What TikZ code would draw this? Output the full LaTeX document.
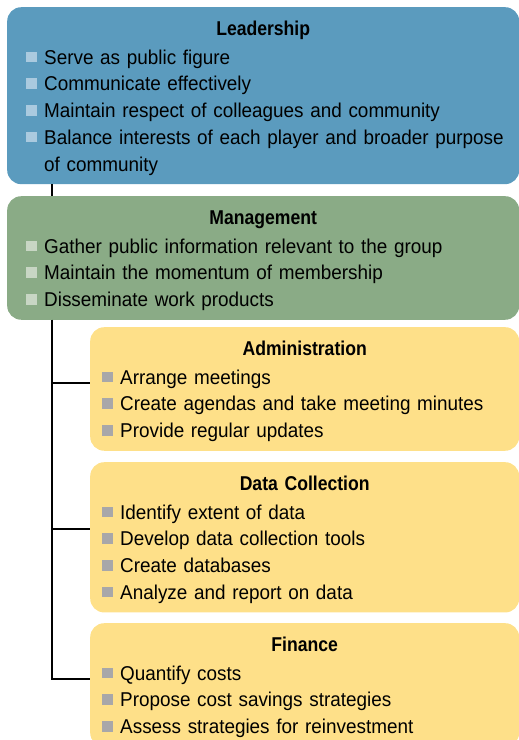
\documentclass[tikz,border=0pt]{standalone}
\usepackage{fontspec}
\setmainfont{Liberation Sans}[FakeStretch=0.945,BoldFeatures={FakeStretch=0.88}]
\usepackage{tikz}
\usetikzlibrary{positioning}

\definecolor{leadblue}{HTML}{5B9BBE}
\definecolor{leadbul}{HTML}{AACADF}
\definecolor{mgmtgreen}{HTML}{8AAB86}
\definecolor{mgmtbul}{HTML}{C8D6C4}
\definecolor{taskyellow}{HTML}{FEE089}
\definecolor{taskbul}{HTML}{A8A7A9}

% heading line and bullet item inside a panel
\newcommand{\head}[1]{{\centering\bfseries\rule{0pt}{19pt}#1\par}\vspace{2.3pt}}
\newcommand{\itm}[1]{\par\hangindent=18pt\hangafter=1\noindent
  \makebox[18pt][l]{\raisebox{2pt}{\color{bulc}\rule{10.5pt}{10.5pt}}}#1\par}

\begin{document}
\begin{tikzpicture}[x=1pt,y=-1pt,
  every node/.style={font=\fontsize{20}{26.7}\selectfont},
  panel/.style={anchor=north west,rounded corners=14pt,align=left,inner ysep=9pt},
  toppanel/.style={panel,text width=474pt,inner xsep=19pt},
  task/.style={panel,fill=taskyellow,text width=405pt,inner xsep=12pt,
    execute at begin node={\colorlet{bulc}{taskbul}}},
  wire/.style={line width=2pt,black}
]
  \useasboundingbox (0,0) rectangle (519,740);

  \node[toppanel,fill=leadblue,execute at begin node={\colorlet{bulc}{leadbul}}] (lead) at (7,7)
    {\head{Leadership}
     \itm{Serve as public figure}
     \itm{Communicate effectively}
     \itm{Maintain respect of colleagues and community}
     \itm{\mbox{Balance interests of each player and broader purpose} of community}};
  \node[toppanel,fill=mgmtgreen,execute at begin node={\colorlet{bulc}{mgmtbul}}] (mgmt) at (7,196)
    {\head{Management}
     \itm{Gather public information relevant to the group}
     \itm{Maintain the momentum of membership}
     \itm{Disseminate work products}};

  \node[task] (admin) at (90,327)
    {\head{Administration}
     \itm{Arrange meetings}
     \itm{Create agendas and take meeting minutes}
     \itm{Provide regular updates}};
  \node[task] (data) at (90,462)
    {\head{Data Collection}
     \itm{Identify extent of data}
     \itm{Develop data collection tools}
     \itm{Create databases}
     \itm{Analyze and report on data}};
  \node[task] (fin) at (90,623)
    {\head{Finance}
     \itm{Quantify costs}
     \itm{Propose cost savings strategies}
     \itm{Assess strategies for reinvestment}};

  \coordinate (spine) at (52,0);
  \draw[wire] (lead.south -| spine) -- (mgmt.north -| spine);
  \draw[wire] (mgmt.south -| spine) |- ([yshift=-56pt]admin.north west);
  \draw[wire] (mgmt.south -| spine) |- ([yshift=-67pt]data.north west);
  \draw[wire] (mgmt.south -| spine) |- ([yshift=-56pt]fin.north west);
\end{tikzpicture}
\end{document}
